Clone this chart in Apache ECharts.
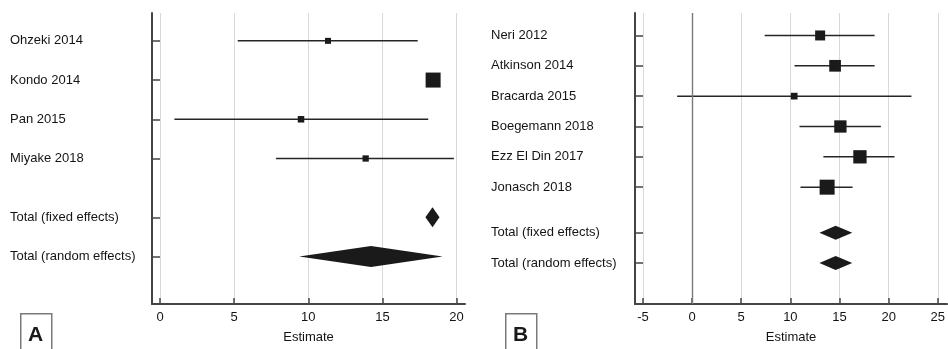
<!DOCTYPE html>
<html>
<head>
<meta charset="utf-8">
<script src="https://cdn.jsdelivr.net/npm/echarts@6/dist/echarts.min.js"></script>
<style>html,body{margin:0;padding:0;background:#fff}#c{width:948px;height:349px}</style>
</head>
<body>
<div id="c"></div>
<script>
// ---------- Panel A data ----------
const studiesA = ['Ohzeki 2014', 'Kondo 2014', 'Pan 2015', 'Miyake 2018'];
const rowsA = [0, 1, 2, 3];
const estA = [11.33, 18.42, 9.51, 13.87];
const loA = [5.24, 17.98, 0.97, 7.82];
const hiA = [17.38, 18.86, 18.09, 19.82];
const weightA = [6, 15, 6.5, 6.3];
const totalsA = ['Total (fixed effects)', 'Total (random effects)'];
const totalRowsA = [4.5, 5.5];
const totalEstA = [18.38, 14.23];
const totalLoA = [17.9, 9.39];
const totalHiA = [18.85, 19.06];
const ticksA = [0, 5, 10, 15, 20];

// ---------- Panel B data ----------
const studiesB = ['Neri 2012', 'Atkinson 2014', 'Bracarda 2015', 'Boegemann 2018', 'Ezz El Din 2017', 'Jonasch 2018'];
const rowsB = [0, 1, 2, 3, 4, 5];
const estB = [13.03, 14.55, 10.39, 15.09, 17.08, 13.74];
const loB = [7.38, 10.42, -1.52, 10.93, 13.36, 11.03];
const hiB = [18.57, 18.57, 22.32, 19.21, 20.6, 16.33];
const weightB = [10, 11.7, 6.7, 12.3, 13.3, 15];
const totalsB = ['Total (fixed effects)', 'Total (random effects)'];
const totalRowsB = [6.5, 7.5];
const totalEstB = [14.61, 14.61];
const totalLoB = [12.96, 12.96];
const totalHiB = [16.3, 16.3];
const ticksB = [-5, 0, 5, 10, 15, 20, 25];
const refLineB = [0];

const FONT = "'Liberation Sans', Arial, sans-serif";
const TXT = '#141414';
const AX = '#444';
const MARK = '#1a1a1a';

function xAxisCfg(gi, min, max, ticks) {
  return {
    gridIndex: gi, type: 'value', min: min, max: max,
    axisLine: { show: true, onZero: false, lineStyle: { color: AX, width: 2 } },
    axisTick: { show: true, inside: true, length: 6, customValues: ticks, lineStyle: { color: AX, width: 1.5 } },
    axisLabel: { customValues: ticks, margin: 7, color: TXT, fontSize: 13, fontFamily: FONT },
    splitLine: { show: true, lineStyle: { color: '#d9d9d9', width: 1 } },
    name: 'Estimate', nameLocation: 'middle', nameGap: 27,
    nameTextStyle: { color: TXT, fontSize: 13, fontFamily: FONT }
  };
}
function yAxisCfg(gi, min, max, rows, names, margin) {
  return {
    gridIndex: gi, type: 'value', inverse: true, min: min, max: max,
    axisLine: { show: true, onZero: false, lineStyle: { color: AX, width: 2 } },
    axisTick: { show: true, inside: true, length: 8, customValues: rows, lineStyle: { color: AX, width: 1.5 } },
    axisLabel: {
      customValues: rows, margin: margin, align: 'left', color: TXT, fontSize: 13, fontFamily: FONT,
      formatter: function (v) { const i = rows.indexOf(v); return i >= 0 ? names[i] : ''; }
    },
    splitLine: { show: false }
  };
}
function ciSeries(idx, lo, hi, rows) {
  return {
    type: 'custom', xAxisIndex: idx, yAxisIndex: idx, clip: false, z: 3,
    data: lo.map((l, i) => [l, hi[i], rows[i]]),
    encode: { x: [0, 1], y: 2 },
    renderItem: function (params, api) {
      const p1 = api.coord([api.value(0), api.value(2)]);
      const p2 = api.coord([api.value(1), api.value(2)]);
      return { type: 'line', shape: { x1: p1[0], y1: p1[1], x2: p2[0], y2: p2[1] }, style: { stroke: '#262626', lineWidth: 1.5 } };
    }
  };
}
function sqSeries(idx, est, rows, w) {
  return {
    type: 'scatter', xAxisIndex: idx, yAxisIndex: idx, symbol: 'rect', z: 4,
    data: est.map((e, i) => [e, rows[i], w[i]]),
    symbolSize: function (v) { return v[2]; },
    itemStyle: { color: MARK, opacity: 1 }
  };
}
function diamondSeries(idx, lo, est, hi, rows, hpx) {
  return {
    type: 'custom', xAxisIndex: idx, yAxisIndex: idx, clip: false, z: 4,
    data: lo.map((l, i) => [l, est[i], hi[i], rows[i]]),
    encode: { x: [0, 1, 2], y: 3 },
    renderItem: function (params, api) {
      const r = api.value(3);
      const a = api.coord([api.value(0), r]);
      const c = api.coord([api.value(1), r]);
      const b = api.coord([api.value(2), r]);
      return {
        type: 'polygon',
        shape: { points: [[a[0], a[1]], [c[0], c[1] - hpx[params.dataIndex] / 2], [b[0], b[1]], [c[0], c[1] + hpx[params.dataIndex] / 2]] },
        style: { fill: MARK }
      };
    }
  };
}

const chart = echarts.init(document.getElementById('c'), null, { renderer: 'canvas' });
chart.setOption({
  animation: false,
  backgroundColor: '#fff',
  grid: [
    { left: 152, top: 13, width: 313, bottom: 45 },
    { left: 635, top: 13, width: 313, bottom: 45 }
  ],
  xAxis: [
    xAxisCfg(0, -0.54, 20.57, ticksA),
    xAxisCfg(1, -5.81, 25.94, ticksB)
  ],
  yAxis: [
    yAxisCfg(0, -0.71, 6.71, rowsA.concat(totalRowsA), studiesA.concat(totalsA), 142),
    yAxisCfg(1, -0.74, 8.85, rowsB.concat(totalRowsB), studiesB.concat(totalsB), 144)
  ],
  series: [
    ciSeries(0, loA, hiA, rowsA),
    sqSeries(0, estA, rowsA, weightA),
    diamondSeries(0, totalLoA, totalEstA, totalHiA, totalRowsA, [20, 21]),
    ciSeries(1, loB, hiB, rowsB),
    sqSeries(1, estB, rowsB, weightB),
    diamondSeries(1, totalLoB, totalEstB, totalHiB, totalRowsB, [14, 14]),
    {
      type: 'line', xAxisIndex: 1, yAxisIndex: 1, data: [],
      markLine: {
        silent: true, symbol: 'none', label: { show: false },
        lineStyle: { color: '#7a7a7a', width: 1.4, type: 'solid' },
        data: refLineB.map(v => ({ xAxis: v }))
      }
    }
  ],
  graphic: [
    { type: 'rect', left: 20, top: 313, shape: { width: 31, height: 50 }, style: { fill: '#fff', stroke: '#7a7a7a', lineWidth: 1.5 } },
    { type: 'text', left: 28, top: 325, style: { text: 'A', font: "bold 21px 'Liberation Sans', Arial, sans-serif", fill: '#1a1a1a' } },
    { type: 'rect', left: 505, top: 313, shape: { width: 31, height: 50 }, style: { fill: '#fff', stroke: '#7a7a7a', lineWidth: 1.5 } },
    { type: 'text', left: 513, top: 325, style: { text: 'B', font: "bold 21px 'Liberation Sans', Arial, sans-serif", fill: '#1a1a1a' } }
  ]
});
</script>
</body>
</html>
